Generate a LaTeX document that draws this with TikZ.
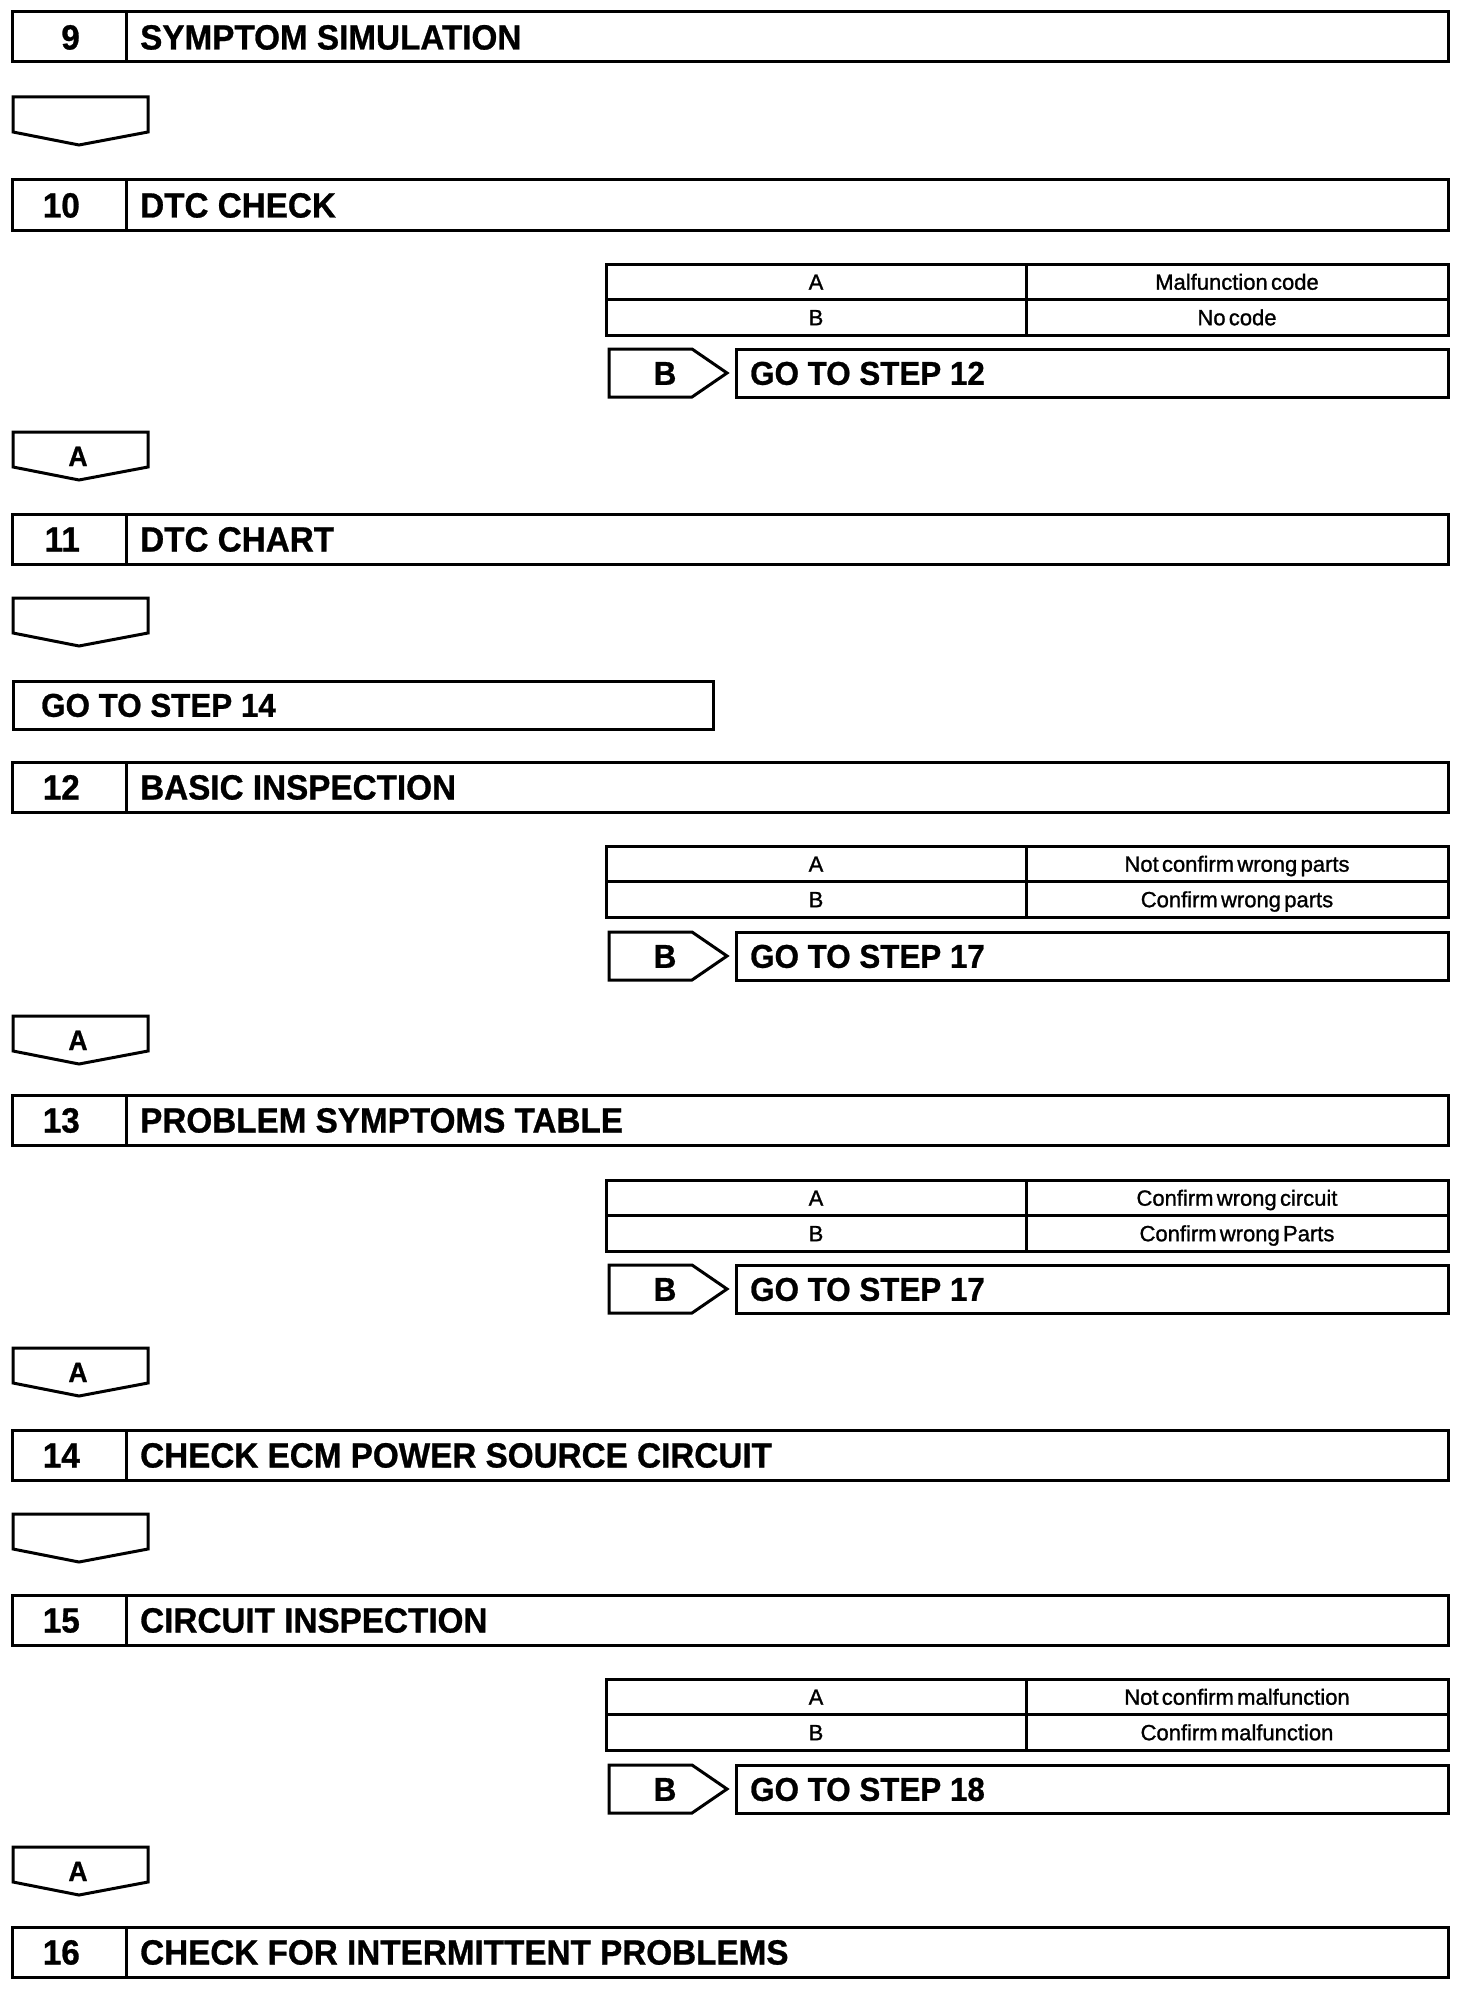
\documentclass[tikz,border=0pt]{standalone}
\usepackage{fontspec}
\setmainfont{Liberation Sans}
\newfontfamily\headfont{Liberation Sans}[FakeStretch=0.95,FakeBold=0.8]
\newfontfamily\cellfont{Liberation Sans}[FakeBold=1.2]
\tikzset{
  boxline/.style={line width=3pt, line join=miter},
  bigtext/.style={inner sep=0pt, font=\headfont\bfseries\fontsize{35}{40}\selectfont},
  gotext/.style={inner sep=0pt, font=\headfont\bfseries\fontsize{33}{38}\selectfont},
  alabel/.style={inner sep=0pt, font=\headfont\bfseries\fontsize{28}{32}\selectfont},
  celltext/.style={inner sep=0pt, font=\cellfont\fontsize{22}{26}\selectfont,
    execute at begin node={\spaceskip=0.15em\relax}}
}
\newcommand\stepbox[3]{%
  \draw[boxline] (12,#1) rectangle (1448,{#1+50});
  \draw[boxline] (126,#1) -- (126,{#1+50});
  \node[bigtext,anchor=base east] (num#2) at (80,{#1+37.5}) {#2};
  \node[bigtext,anchor=base west] (title#2) at (140,{#1+37.5}) {#3};
}
\newcommand\opttable[4]{%
  \draw[boxline] (606,#1) rectangle (1448,{#1+71});
  \draw[boxline] (606,{#1+35.5}) -- (1448,{#1+35.5});
  \draw[boxline] (1026,#1) -- (1026,{#1+71});
  \node[celltext,anchor=base] (ra#2) at (816,{#1+25.7}) {A};
  \node[celltext,anchor=base] (rb#2) at (816,{#1+61.2}) {B};
  \node[celltext,anchor=base] (ta#2) at (1237,{#1+25.7}) {#3};
  \node[celltext,anchor=base] (tb#2) at (1237,{#1+61.2}) {#4};
}
\newcommand\gobox[3]{%
  \draw[boxline] (609,#1) -- (692,#1) -- (727,{#1+24}) -- (692,{#1+48}) -- (609,{#1+48}) -- cycle;
  \draw[boxline] (736,#1) rectangle (1448,{#1+48});
  \node[gotext,anchor=base] (gb#2) at (665,{#1+35.8}) {B};
  \node[gotext,anchor=base west] (gt#2) at (750,{#1+35.8}) {#3};
}
\newcommand\dnarrow[3]{%
  \draw[boxline] (13,#1) -- (148,#1) -- (148,{#1+35}) -- (79,{#1+48}) -- (13,{#1+35}) -- cycle;
  \node[alabel,anchor=base] (ar#2) at (78,{#1+34}) {#3};
}
\begin{document}
\begin{tikzpicture}[x=1pt,y=-1pt]
\useasboundingbox (0,0) rectangle (1472,2004);
\fill[white] (0,0) rectangle (1472,2004);

\stepbox{12}{9}{SYMPTOM SIMULATION}
\dnarrow{97}{a1}{}
\stepbox{180}{10}{DTC CHECK}
\opttable{264}{t10}{Malfunction code}{No code}
\gobox{349}{g10}{GO TO STEP 12}
\dnarrow{432}{a2}{A}
\stepbox{514}{11}{DTC CHART}
\dnarrow{598}{a3}{}
\draw[boxline] (13,681) rectangle (713,729);
\node[gotext,anchor=base west] (go14) at (41,{681+35.8}) {GO TO STEP 14};
\stepbox{762}{12}{BASIC INSPECTION}
\opttable{846}{t12}{Not confirm wrong parts}{Confirm wrong parts}
\gobox{932}{g12}{GO TO STEP 17}
\dnarrow{1016}{a4}{A}
\stepbox{1095}{13}{PROBLEM SYMPTOMS TABLE}
\opttable{1180}{t13}{Confirm wrong circuit}{Confirm wrong Parts}
\gobox{1265}{g13}{GO TO STEP 17}
\dnarrow{1348}{a5}{A}
\stepbox{1430}{14}{CHECK ECM POWER SOURCE CIRCUIT}
\dnarrow{1514}{a6}{}
\stepbox{1595}{15}{CIRCUIT INSPECTION}
\opttable{1679}{t15}{Not confirm malfunction}{Confirm malfunction}
\gobox{1765}{g15}{GO TO STEP 18}
\dnarrow{1847}{a7}{A}
\stepbox{1927}{16}{CHECK FOR INTERMITTENT PROBLEMS}
\end{tikzpicture}
\end{document}
